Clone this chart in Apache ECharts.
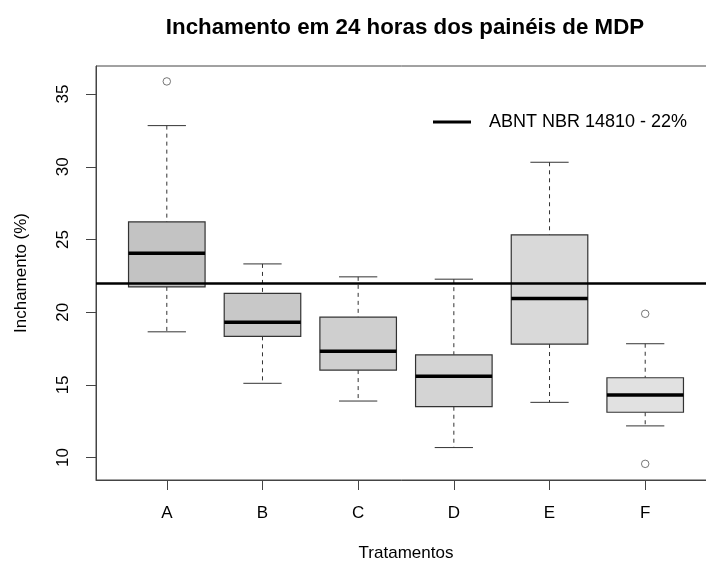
<!DOCTYPE html>
<html>
<head>
<meta charset="utf-8">
<script src="https://cdn.jsdelivr.net/npm/echarts@6/dist/echarts.min.js"></script>
<style>html,body{margin:0;padding:0;background:#fff}#c{width:706px;height:561px}</style>
</head>
<body>
<div id="c"></div>
<script>
// ---- data ----
const categories = ['A', 'B', 'C', 'D', 'E', 'F'];
const whiskerLow  = [18.65, 15.11, 13.89, 10.69, 13.80, 12.18];
const q1          = [21.74, 18.34, 16.02, 13.50, 17.81, 13.12];
const median      = [24.06, 19.30, 17.31, 15.59, 20.95, 14.30];
const q3          = [26.21, 21.29, 19.66, 17.07, 25.32, 15.49];
const whiskerHigh = [32.83, 23.32, 22.43, 22.27, 30.31, 17.83];
const outlierCat  = ['A', 'F', 'F'];
const outlierVal  = [35.87, 19.89, 9.57];
const yTicks = [10, 15, 20, 25, 30, 35];
const limitValue = 22;
const limitName = 'ABNT NBR 14810 - 22%';

// ---- styles ----
const boxColors = ['#c3c3c3', '#c8c8c8', '#cfcfcf', '#d4d4d4', '#d9d9d9', '#e1e1e1'];
const FONT = 'Liberation Sans, Arial, sans-serif';

const boxData = categories.map((c, i) => [i + 1, whiskerLow[i], q1[i], median[i], q3[i], whiskerHigh[i], i]);
const outlierData = outlierCat.map((c, i) => [categories.indexOf(c) + 1, outlierVal[i]]);
const catPositions = categories.map((c, i) => i + 1);

function renderBox(params, api) {
  const x = api.value(0);
  const lo = api.value(1), b1 = api.value(2), md = api.value(3), b3 = api.value(4), hi = api.value(5);
  const ci = api.value(6);
  const half = 0.4, capHalf = 0.2;
  const pLoL = api.coord([x - capHalf, lo]), pLoR = api.coord([x + capHalf, lo]);
  const pHiL = api.coord([x - capHalf, hi]), pHiR = api.coord([x + capHalf, hi]);
  const pLo = api.coord([x, lo]), pHi = api.coord([x, hi]);
  const pQ1 = api.coord([x, b1]), pQ3 = api.coord([x, b3]);
  const boxTL = api.coord([x - half, b3]), boxBR = api.coord([x + half, b1]);
  const mL = api.coord([x - half, md]), mR = api.coord([x + half, md]);
  const dash = {stroke: '#333', lineWidth: 1, lineDash: [4, 4]};
  const solid = {stroke: '#333', lineWidth: 1};
  return {
    type: 'group',
    children: [
      {type: 'line', shape: {x1: pHi[0], y1: pHi[1], x2: pQ3[0], y2: pQ3[1]}, style: dash},
      {type: 'line', shape: {x1: pQ1[0], y1: pQ1[1], x2: pLo[0], y2: pLo[1]}, style: dash},
      {type: 'line', shape: {x1: pHiL[0], y1: pHiL[1], x2: pHiR[0], y2: pHiR[1]}, style: solid},
      {type: 'line', shape: {x1: pLoL[0], y1: pLoL[1], x2: pLoR[0], y2: pLoR[1]}, style: solid},
      {type: 'rect', shape: {x: boxTL[0], y: boxTL[1], width: boxBR[0] - boxTL[0], height: boxBR[1] - boxTL[1]},
        style: {fill: boxColors[ci], stroke: '#333', lineWidth: 1.2}},
      {type: 'line', shape: {x1: mL[0], y1: mL[1], x2: mR[0], y2: mR[1]}, style: {stroke: '#000', lineWidth: 3.5}}
    ]
  };
}

const chart = echarts.init(document.getElementById('c'), null, {renderer: 'canvas'});
chart.setOption({
  animation: false,
  backgroundColor: '#fff',
  title: {
    text: 'Inchamento em 24 horas dos painéis de MDP',
    left: 400, top: 12, textAlign: 'center',
    textStyle: {fontFamily: FONT, fontWeight: 'bold', fontSize: 22.3, color: '#000'}
  },
  legend: {
    left: 433, top: 113, padding: 0,
    icon: 'rect', itemWidth: 38, itemHeight: 3,
    data: [limitName],
    textStyle: {fontFamily: FONT, fontSize: 18, color: '#000', padding: [0, 0, 0, 13]}
  },
  grid: {left: 96, top: 66, width: 620, height: 414, show: true, borderColor: '#444', borderWidth: 1,
    backgroundColor: 'transparent', containLabel: false, outerBoundsMode: 'none'},
  xAxis: {
    type: 'value', min: 0.26, max: 6.74,
    splitLine: {show: false},
    axisLine: {show: true, lineStyle: {color: '#444'}},
    axisTick: {show: true, length: 10, customValues: catPositions, lineStyle: {color: '#444'}},
    axisLabel: {customValues: catPositions, formatter: v => categories[Math.round(v) - 1] || '',
      margin: 25, fontFamily: FONT, fontSize: 17, color: '#000'},
    name: 'Tratamentos', nameLocation: 'middle', nameGap: 65,
    nameTextStyle: {fontFamily: FONT, fontSize: 17, color: '#000'}
  },
  yAxis: {
    type: 'value', min: 8.46, max: 36.93,
    splitLine: {show: false},
    axisLine: {show: true, lineStyle: {color: '#444'}},
    axisTick: {show: true, length: 10, customValues: yTicks, lineStyle: {color: '#444'}},
    axisLabel: {customValues: yTicks, rotate: 90, margin: 24, fontFamily: FONT, fontSize: 17, color: '#000'},
    name: 'Inchamento (%)', nameLocation: 'middle', nameGap: 66, nameRotate: 90,
    nameTextStyle: {fontFamily: FONT, fontSize: 17, color: '#000'}
  },
  series: [
    {
      type: 'custom', name: 'box', renderItem: renderBox, data: boxData,
      encode: {x: 0, y: [1, 2, 3, 4, 5]}, silent: true, z: 2
    },
    {
      type: 'scatter', name: 'outliers', data: outlierData, symbol: 'circle', symbolSize: 7.5,
      itemStyle: {color: '#fff', borderColor: '#555', borderWidth: 1}, silent: true, z: 3
    },
    {
      type: 'line', name: limitName, data: [], symbol: 'none',
      itemStyle: {color: '#000'}, lineStyle: {color: '#000', width: 2.5},
      markLine: {silent: true, symbol: 'none', label: {show: false},
        lineStyle: {color: '#000', width: 2.5, type: 'solid'},
        data: [{yAxis: limitValue}]},
      z: 4
    }
  ]
});
</script>
</body>
</html>
